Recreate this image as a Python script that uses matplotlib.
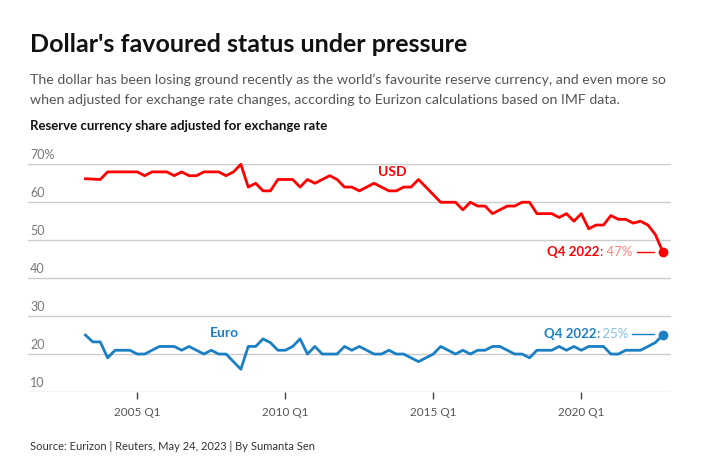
import numpy as np
import matplotlib
matplotlib.use("Agg")
from matplotlib import pyplot as plt

plt.rcParams['font.family'] = ['Lato', 'DejaVu Sans']

# quarterly data, 2003 Q2 .. 2022 Q4 (share %, adjusted for exchange rate)
usd = [66.2, 66.1, 66.0, 68, 68, 68, 68, 68, 67, 68,
       68, 68, 67, 68, 67, 67, 68, 68, 68, 67,
       68, 70, 64, 65, 63, 63, 66, 66, 66, 64,
       66, 65, 66, 67, 66, 64, 64, 63, 64, 65,
       64, 63, 63, 64, 64, 66, 64, 62, 60, 60,
       60, 58, 60, 59, 59, 57, 58, 59, 59, 60,
       60, 57, 57, 57, 56, 57, 55, 57, 53, 54,
       54, 56.5, 55.5, 55.5, 54.5, 55, 54, 51.5, 47]
euro = [25, 23.2, 23.2, 19, 21, 21, 21, 20, 20, 21,
        22, 22, 22, 21, 22, 21, 20, 21, 20, 20,
        18, 16, 22, 22, 24, 23, 21, 21, 22, 24,
        20, 22, 20, 20, 20, 22, 21, 22, 21, 20,
        20, 21, 20, 20, 19, 18, 19, 20, 22, 21,
        20, 21, 20, 21, 21, 22, 22, 21, 20, 20,
        19, 21, 21, 21, 22, 21, 22, 21, 22, 22,
        22, 20, 20, 21, 21, 21, 22, 23, 25]
x = 2003.25 + 0.25 * np.arange(len(usd))

y_ticks = [10, 20, 30, 40, 50, 60, 70]
y_labels = ['10', '20', '30', '40', '50', '60', '70%']
x_ticks = [2005, 2010, 2015, 2020]
x_labels = ['2005 Q1', '2010 Q1', '2015 Q1', '2020 Q1']

RED = '#ff0000'
RED_LIGHT = '#ff8080'
BLUE = '#1a7fc3'
BLUE_LIGHT = '#86bfe6'

fig = plt.figure(figsize=(7.1, 4.73), dpi=100)
ax = fig.add_axes([28 / 710, 1 - 392 / 473, 643 / 710, (392 - 164.3) / 473])
ax.set_xlim(2001.31, 2023.03)
ax.set_ylim(10, 70)
for s in ax.spines.values():
    s.set_visible(False)
ax.set_yticks([])
for v, lab in zip(y_ticks, y_labels):
    ax.axhline(v, color='#cccccc', lw=1, zorder=1)
    ax.text(2001.38, v + 0.8, lab, color='#777777', fontsize=9, va='bottom', ha='left')

ax.set_xticks(x_ticks)
ax.set_xticklabels(x_labels, color='#555555', fontsize=8.5)
ax.tick_params(axis='x', length=5, width=1, color='#444444', pad=6)

ax.plot(x, usd, color=RED, lw=2, zorder=3, clip_on=False)
ax.plot(x, euro, color=BLUE, lw=2, zorder=3, clip_on=False)
ax.plot(x[-1], usd[-1], 'o', color=RED, ms=6, zorder=4, clip_on=False)
ax.plot(x[-1], euro[-1], 'o', color=BLUE, ms=6, zorder=4, clip_on=False)

ax.text(2013.6, 68.0, 'USD', color=RED, fontsize=10, fontweight='bold', ha='center', va='center')
ax.text(2007.93, 25.5, 'Euro', color=BLUE, fontsize=10, fontweight='bold', ha='center', va='center')


def end_label(xr, y, val, dark, light):
    t = ax.text(xr, y, ' %g%%' % val, color=light, fontsize=9.5, ha='right', va='center')
    c = ax.annotate(':', xy=(0, 0.5), xycoords=t, color=dark, fontsize=9.5,
                    ha='right', va='center')
    ax.annotate('Q4 2022', xy=(0, 0.5), xycoords=c, color=dark, fontsize=9.5,
                fontweight='bold', ha='right', va='center')


end_label(2021.71, 46.8, usd[-1], RED, RED_LIGHT)
ax.plot([2021.88, 2022.46], [46.8, 46.8], color=RED, lw=1)
end_label(2021.6, 25.3, euro[-1], BLUE, BLUE_LIGHT)
ax.plot([2021.72, 2022.46], [25.3, 25.3], color=BLUE, lw=1)

fig.text(30 / 710, 1 - 45 / 473, "Dollar's favoured status under pressure", fontsize=18,
         fontweight='bold', color='#111111', va='center')
fig.text(30 / 710, 1 - 80 / 473, "The dollar has been losing ground recently as the world\u2019s favourite reserve currency, and even more so",
         fontsize=10.2, color='#555555', va='center')
fig.text(30 / 710, 1 - 100 / 473, "when adjusted for exchange rate changes, according to Eurizon calculations based on IMF data.",
         fontsize=10.2, color='#555555', va='center')
fig.text(30 / 710, 1 - 126 / 473, "Reserve currency share adjusted for exchange rate", fontsize=9.5,
         fontweight='bold', color='#111111', va='center')
fig.text(30 / 710, 1 - 446 / 473, "Source: Eurizon | Reuters, May 24, 2023 | By Sumanta Sen", fontsize=8,
         color='#333333', va='center')

fig.savefig('out.png', dpi=100)
